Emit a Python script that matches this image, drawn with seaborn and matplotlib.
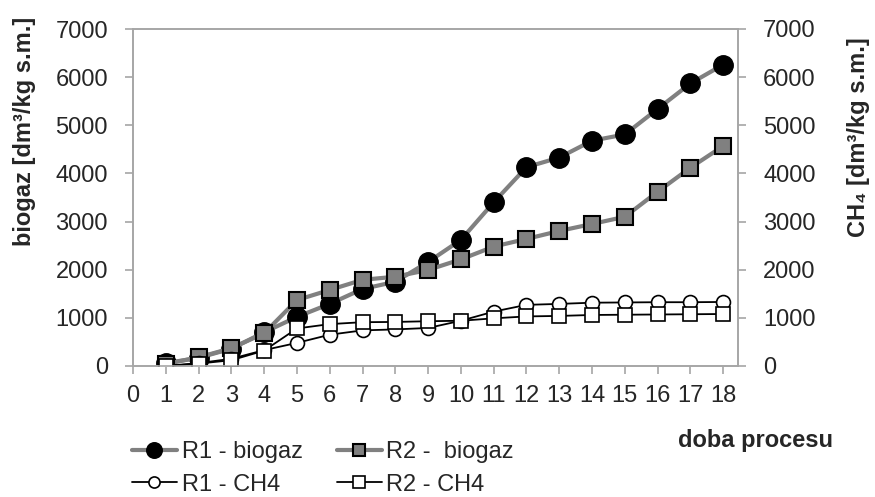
import matplotlib
matplotlib.use("Agg")
import matplotlib.pyplot as plt
import seaborn as sns
import pandas as pd

days = list(range(1, 19))
r1_biogaz = [60, 170, 360, 700, 1020, 1290, 1600, 1750, 2160, 2620, 3400, 4130, 4330, 4680, 4810, 5340, 5870, 6260]
r2_biogaz = [40, 180, 370, 680, 1370, 1580, 1790, 1855, 1995, 2215, 2480, 2640, 2805, 2950, 3100, 3620, 4120, 4570]
r1_ch4 = [0, 60, 150, 330, 480, 650, 740, 760, 790, 940, 1130, 1270, 1290, 1315, 1320, 1325, 1325, 1330]
r2_ch4 = [0, 50, 120, 320, 780, 870, 910, 915, 930, 940, 990, 1030, 1040, 1060, 1065, 1070, 1075, 1080]
series_names = ["R1 - biogaz", "R2 -  biogaz", "R1 - CH4", "R2 - CH4"]
xticks = list(range(0, 19))
yticks = [0, 1000, 2000, 3000, 4000, 5000, 6000, 7000]

sns.set_style("white")
plt.rcParams["font.family"] = ["Liberation Sans", "DejaVu Sans"]
FS = 17

fig = plt.figure(figsize=(8.75, 4.97), dpi=100)
ax = fig.add_axes([133/875, 1-366/497, (738-133)/875, (366-29)/497])
ax2 = ax.twinx()

df = pd.DataFrame({"day": days, "r1b": r1_biogaz, "r2b": r2_biogaz, "r1c": r1_ch4, "r2c": r2_ch4})

gray = "#808080"
sns.lineplot(data=df, x="day", y="r1b", ax=ax, color=gray, lw=3, marker="o", markersize=14,
             markerfacecolor="black", markeredgecolor="black", markeredgewidth=1, label=series_names[0], legend=False)
sns.lineplot(data=df, x="day", y="r2b", ax=ax, color=gray, lw=3, marker="s", markersize=11,
             markerfacecolor=gray, markeredgecolor="black", markeredgewidth=1.5, label=series_names[1], legend=False)
sns.lineplot(data=df, x="day", y="r1c", ax=ax2, color="black", lw=1.3, marker="o", markersize=10,
             markerfacecolor="white", markeredgecolor="black", markeredgewidth=1.2, label=series_names[2], legend=False)
sns.lineplot(data=df, x="day", y="r2c", ax=ax2, color="black", lw=1.3, marker="s", markersize=10.5,
             markerfacecolor="white", markeredgecolor="black", markeredgewidth=1.2, label=series_names[3], legend=False)

for a in (ax, ax2):
    a.set_xlim(0, 18.45)
    a.set_ylim(0, 7000)
    a.set_yticks(yticks)
    for s in a.spines.values():
        s.set_color("#a6a6a6")
        s.set_linewidth(1.2)
    a.set_xlabel("")

ax.set_xticks(xticks)
ax.set_xticklabels([str(t) for t in xticks], fontsize=FS)
ax.set_yticklabels([str(t) for t in yticks], fontsize=FS)
ax2.set_yticklabels([str(t) for t in yticks], fontsize=FS)
ax.tick_params(axis="x", bottom=True, direction="out", length=6, width=1.2, color="#a6a6a6", pad=8)
ax.tick_params(axis="y", left=True, direction="out", length=6, width=1.2, color="#a6a6a6", pad=12)
ax2.tick_params(axis="y", right=True, direction="out", length=6, width=1.2, color="#a6a6a6", pad=12)

ax.set_ylabel("biogaz [dm³/kg s.m.]", fontsize=FS, fontweight="bold")
ax.yaxis.set_label_coords(-0.16, 0.697)
ax2.set_ylabel("CH₄ [dm³/kg s.m.]", fontsize=FS, fontweight="bold", rotation=90)
ax2.yaxis.set_label_coords(1.18, 0.68)

fig.text(755/875, 1-440/497, "doba procesu", fontsize=FS, fontweight="bold", ha="center", va="center")

h1, l1 = ax.get_legend_handles_labels()
h2, l2 = ax2.get_legend_handles_labels()
handles = [h1[0], h2[0], h1[1], h2[1]]
labels = [l1[0], l2[0], l1[1], l2[1]]
fig.legend(handles, labels, loc="upper left", bbox_to_anchor=(132/875, 1-441/497), ncol=2,
           frameon=False, fontsize=FS, handlelength=1.9, handletextpad=0.2, columnspacing=1.45,
           labelspacing=0.45, markerscale=0.8, borderaxespad=0, borderpad=0)

fig.savefig("out.png", dpi=100)
